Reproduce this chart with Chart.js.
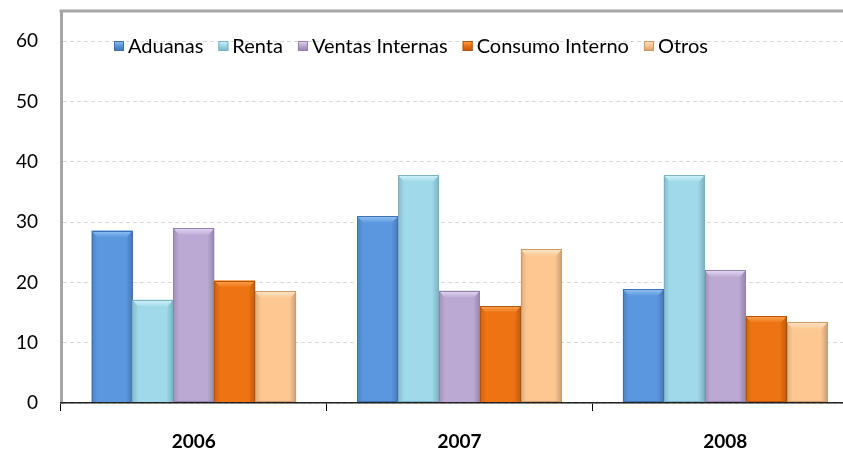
<!DOCTYPE html>
<html>
<head>
<meta charset="utf-8">
<script src="https://cdn.jsdelivr.net/npm/chart.js@4.4.1/dist/chart.umd.min.js"></script>
<style>
  html, body { margin: 0; padding: 0; background: #fff; overflow: hidden; }
  #wrap { width: 864px; height: 450px; }
</style>
</head>
<body>
<div id="wrap"><canvas id="c" width="864" height="450"></canvas></div>
<script>
const categories = ['2006', '2007', '2008'];
const seriesNames = ['Aduanas', 'Renta', 'Ventas Internas', 'Consumo Interno', 'Otros'];
const aduanas = [28.6, 31.0, 18.9];
const renta = [17.1, 37.8, 37.8];
const ventasInternas = [29.0, 18.6, 22.0];
const consumoInterno = [20.3, 16.1, 14.4];
const otros = [18.5, 25.5, 13.4];
const yMax = 65;
const yStep = 10;

const fills   = ['#5B97DF', '#9FD9EA', '#BBA9D3', '#EE7312', '#FDC792'];
const borders = ['#3E72B2', '#78B2C3', '#9481AE', '#B65509', '#CF9A68'];
const lights  = ['#95C4F3', '#D3F4FB', '#E6DAF5', '#F9A651', '#FFE6C5'];
const FONT = 'Lato, "Open Sans", sans-serif';

const allSeries = [aduanas, renta, ventasInternas, consumoInterno, otros];

const bevelPlugin = {
  id: 'bevel',
  afterDatasetsDraw(chart) {
    const ctx = chart.ctx;
    chart.data.datasets.forEach((ds, di) => {
      const meta = chart.getDatasetMeta(di);
      meta.data.forEach(el => {
        const p = el.getProps(['x', 'y', 'base', 'width'], true);
        const l = p.x - p.width / 2, r = p.x + p.width / 2, t = p.y, b = p.base;
        ctx.save();
        let g = ctx.createLinearGradient(l, 0, l + 6, 0);
        g.addColorStop(0, 'rgba(0,0,0,0.14)');
        g.addColorStop(1, 'rgba(0,0,0,0)');
        ctx.fillStyle = g;
        ctx.fillRect(l, t, 6, b - t);
        g = ctx.createLinearGradient(r - 7, 0, r, 0);
        g.addColorStop(0, 'rgba(0,0,0,0)');
        g.addColorStop(1, 'rgba(0,0,0,0.2)');
        ctx.fillStyle = g;
        ctx.fillRect(r - 7, t, 7, b - t);
        ctx.beginPath();
        ctx.moveTo(l, t);
        ctx.lineTo(r, t);
        ctx.lineTo(r - 6, t + 7);
        ctx.lineTo(l + 6, t + 7);
        ctx.closePath();
        g = ctx.createLinearGradient(0, t, 0, t + 7);
        g.addColorStop(0, lights[di]);
        g.addColorStop(1, fills[di]);
        ctx.fillStyle = g;
        ctx.fill();
        ctx.strokeStyle = borders[di];
        ctx.lineWidth = 1;
        ctx.strokeRect(Math.round(l) + 0.5, Math.round(t) + 0.5, Math.round(r - l) - 1, Math.round(b - t) - 1);
        ctx.restore();
      });
    });
  }
};

const framePlugin = {
  id: 'frame',
  afterDraw(chart) {
    const ctx = chart.ctx, a = chart.chartArea;
    ctx.save();
    ctx.strokeStyle = '#a6a6a6';
    ctx.lineWidth = 3;
    ctx.beginPath();
    ctx.moveTo(a.left - 1.5, a.top);
    ctx.lineTo(a.right, a.top);
    ctx.stroke();
    ctx.font = '20px ' + FONT;
    ctx.textBaseline = 'middle';
    let x = 114;
    const cy = 46;
    chart.data.datasets.forEach((ds, i) => {
      const s = 10;
      const g = ctx.createLinearGradient(0, cy - s / 2, 0, cy + s / 2);
      g.addColorStop(0, lights[i]);
      g.addColorStop(0.45, fills[i]);
      g.addColorStop(1, borders[i]);
      ctx.fillStyle = g;
      ctx.fillRect(x, cy - s / 2, s, s);
      ctx.strokeStyle = borders[i];
      ctx.lineWidth = 1;
      ctx.strokeRect(x + 0.5, cy - s / 2 + 0.5, s - 1, s - 1);
      x += s + 4;
      ctx.fillStyle = '#000';
      ctx.fillText(ds.label, x, cy + 1);
      x += ctx.measureText(ds.label).width + 15;
    });
    ctx.restore();
  }
};

new Chart(document.getElementById('c'), {
  type: 'bar',
  data: {
    labels: categories,
    datasets: seriesNames.map((name, i) => ({
      label: name,
      data: allSeries[i],
      backgroundColor: fills[i],
      borderWidth: 0,
      barPercentage: 1.0,
      categoryPercentage: 0.77
    }))
  },
  options: {
    responsive: false,
    animation: false,
    layout: { padding: { top: 11, right: 6, left: 0, bottom: 0 } },
    plugins: {
      legend: { display: false },
      tooltip: { enabled: false }
    },
    scales: {
      x: {
        grid: {
          offset: true,
          drawOnChartArea: false,
          drawTicks: true,
          tickLength: 8,
          tickColor: '#000',
          tickWidth: 1
        },
        border: { color: '#222', width: 1.5, z: 2 },
        ticks: {
          color: '#000',
          font: { family: FONT, size: 19, weight: 'bold' },
          padding: 19,
          maxRotation: 0
        },
        afterFit(scale) { scale.height = 47; scale.paddingLeft = 0; scale.paddingRight = 0; }
      },
      y: {
        min: 0,
        max: yMax,
        grid: {
          color: '#d9d9d9',
          lineWidth: 1,
          drawTicks: false
        },
        border: { color: '#a6a6a6', width: 3, dash: [4, 3] },
        ticks: {
          stepSize: yStep,
          color: '#000',
          font: { family: FONT, size: 19 },
          padding: 23,
          callback: v => (v % yStep === 0 ? v : null)
        },
        afterFit(scale) { scale.width = 61; scale.paddingTop = 0; scale.paddingBottom = 0; }
      }
    }
  },
  plugins: [bevelPlugin, framePlugin]
});
</script>
</body>
</html>
